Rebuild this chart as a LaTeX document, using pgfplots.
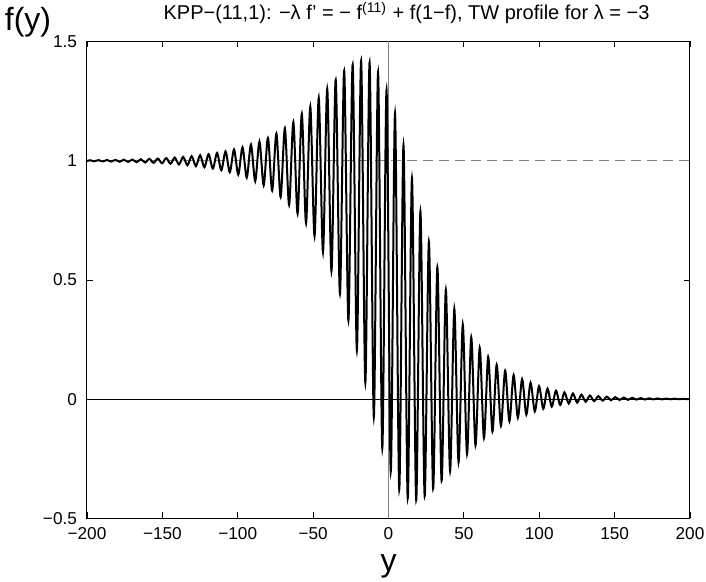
\documentclass[border=0pt]{standalone}
\usepackage{pgfplots}
\pgfplotsset{compat=1.18}
\usepackage{fontspec}
\setmainfont{Liberation Sans}
\begin{document}
\begin{tikzpicture}
\useasboundingbox (-43.5pt,-31.75pt) rectangle (309.5pt,259.25pt);
\begin{axis}[
 at={(0pt,0pt)}, anchor=south west, scale only axis,
 width=301.5pt, height=238.5pt,
 xmin=-200, xmax=200, ymin=-0.5, ymax=1.5,
 xtick={-200,-150,-100,-50,0,50,100,150,200},
 xticklabels={−200,−150,−100,−50,0,50,100,150,200},
 ytick={-0.5,0,0.5,1,1.5},
 yticklabels={−0.5,0,0.5,1,1.5},
 tick align=inside, major tick length=3pt,
 every tick/.style={black, line width=0.4pt},
 axis line style={line width=0.5pt},
 ticklabel style={font=\fontsize{8.6}{10}\selectfont},
 xticklabel style={yshift=-0.8pt},
 yticklabel style={xshift=-1.5pt},
]
\addplot[gray, line width=0.4pt, dash pattern=on 5pt off 3pt] coordinates {(-200,1) (200,1)};
\addplot[black, line width=0.4pt] coordinates {(-200,0) (200,0)};
\addplot[gray, line width=0.4pt] coordinates {(0,-0.5) (0,1.5)};
\addplot[black, line width=1pt, smooth] coordinates {
(-200,0.9985)
(-198.00,1.0021) (-195.19,0.9977)
(-192.38,1.0026) (-189.57,0.9972)
(-186.76,1.0031) (-183.95,0.9966)
(-181.14,1.0037) (-178.33,0.9959)
(-175.52,1.0045) (-172.71,0.9950)
(-169.90,1.0053) (-167.09,0.9940)
(-164.28,1.0064) (-161.47,0.9927)
(-158.66,1.0077) (-155.85,0.9912)
(-153.04,1.0092) (-150.23,0.9894)
(-147.42,1.0110) (-144.61,0.9873)
(-141.80,1.0132) (-138.99,0.9846)
(-136.18,1.0159) (-133.37,0.9814)
(-130.56,1.0190) (-127.75,0.9775)
(-124.94,1.0228) (-122.13,0.9728)
(-119.32,1.0274) (-116.51,0.9671)
(-113.70,1.0328) (-110.89,0.9603)
(-108.08,1.0393) (-105.27,0.9519)
(-102.46,1.0470) (-99.65,0.9418)
(-96.84,1.0562) (-94.03,0.9296)
(-91.22,1.0672) (-88.41,0.9147)
(-85.60,1.0803) (-82.79,0.8966)
(-79.98,1.0958) (-77.17,0.8746)
(-74.36,1.1142) (-71.55,0.8477)
(-68.74,1.1360) (-65.93,0.8150)
(-63.12,1.1619) (-60.31,0.7780)
(-57.50,1.1960) (-54.69,0.7380)
(-51.88,1.2270) (-49.07,0.6840)
(-46.26,1.2630) (-43.45,0.6170)
(-40.64,1.3010) (-37.83,0.5370)
(-35.02,1.3400) (-32.21,0.4420)
(-29.40,1.3780) (-26.59,0.3300)
(-23.78,1.4030) (-20.97,0.2040)
(-18.16,1.4190) (-15.35,0.0690)
(-12.54,1.4110) (-9.73,-0.0750)
(-6.92,1.3710) (-4.11,-0.2050)
(-1.30,1.2960) (1.51,-0.3030)
(4.32,1.1990) (7.13,-0.3780)
(9.94,1.0660) (12.75,-0.4150)
(15.56,0.9260) (18.37,-0.4220)
(21.18,0.7880) (23.99,-0.4060)
(26.80,0.6610) (29.61,-0.3750)
(32.42,0.5530) (35.23,-0.3410)
(38.04,0.4580) (40.85,-0.3010)
(43.66,0.3780) (46.47,-0.2640)
(49.28,0.3130) (52.09,-0.2290)
(54.90,0.2590) (57.71,-0.1930)
(60.52,0.2150) (63.33,-0.1630)
(66.14,0.1780) (68.95,-0.1350)
(71.76,0.1450) (74.57,-0.1120)
(77.38,0.1200) (80.19,-0.0920)
(83.00,0.1010) (85.81,-0.0770)
(88.62,0.0840) (91.43,-0.0640)
(94.24,0.0690) (97.05,-0.0510)
(99.86,0.0550) (102.67,-0.0400)
(105.48,0.0445) (108.29,-0.0310)
(111.10,0.0360) (113.91,-0.0240)
(116.72,0.0290) (119.53,-0.0180)
(122.34,0.0240) (125.15,-0.0140)
(127.96,0.0190) (130.77,-0.0105)
(133.58,0.0155) (136.39,-0.0080)
(139.20,0.0130) (142.01,-0.0060)
(144.82,0.0106) (147.63,-0.0043)
(150.44,0.0088) (153.25,-0.0031)
(156.06,0.0072) (158.87,-0.0023)
(161.68,0.0060) (164.49,-0.0015)
(167.30,0.0049) (170.11,-0.0011)
(172.92,0.0041) (175.73,-0.0007)
(178.54,0.0034) (181.35,-0.0005)
(184.16,0.0028) (186.97,-0.0002)
(189.78,0.0023) (192.59,0.0000)
(195.40,0.0020) (198.21,0.0001)
(200,0.0010)
};
\end{axis}
\node[font=\fontsize{10}{12}\selectfont] at (159.75pt,252.75pt) {KPP−(11,1): −λ f' = − f\textsuperscript{(11)} + f(1−f), TW profile for λ = −3};
\node[font=\fontsize{16}{19}\selectfont] at (-29.5pt,248.25pt) {f(y)};
\node[font=\fontsize{16}{19}\selectfont] at (150.75pt,-24pt) {y};
\end{tikzpicture}
\end{document}
